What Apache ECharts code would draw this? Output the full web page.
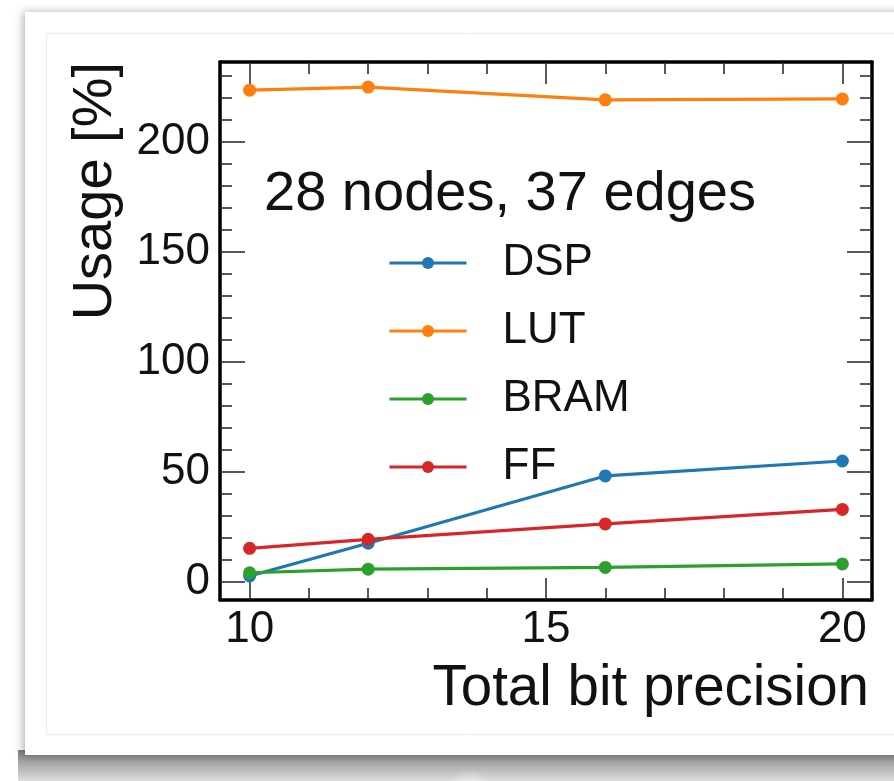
<!DOCTYPE html>
<html>
<head>
<meta charset="utf-8">
<script src="https://cdn.jsdelivr.net/npm/echarts@6/dist/echarts.min.js"></script>
<style>
html,body{margin:0;padding:0;background:#fff;}
#chart{width:894px;height:781px;}
</style>
</head>
<body>
<div id="chart"></div>
<script>
// ---- data ----
const bits = [10, 12, 16, 20];
const dsp  = [2.7, 17.6, 48.2, 55.0];
const lut  = [223.6, 225.0, 219.2, 219.6];
const bram = [4.2, 5.8, 6.6, 8.2];
const ff   = [15.3, 19.4, 26.4, 33.0];
const seriesNames = ['DSP', 'LUT', 'BRAM', 'FF'];
const seriesValues = [dsp, lut, bram, ff];
const seriesColors = ['#1f77b4', '#ff7f0e', '#2ca02c', '#d62728'];
const xMajorTicks = [10, 15, 20];
const xMinorTicks = [11, 12, 13, 14, 16, 17, 18, 19];
const yMajorTicks = [0, 50, 100, 150, 200];
const yMinorTicks = [10, 20, 30, 40, 60, 70, 80, 90, 110, 120, 130, 140, 160, 170, 180, 190, 210, 220, 230];
const legendTitle = '28 nodes, 37 edges';
const xName = 'Total bit precision';
const yName = 'Usage [%]';

const FONT = '"Liberation Sans", Arial, Helvetica, sans-serif';
const xMin = 9.5, xMax = 20.5, yMin = -8.2, yMax = 236.4;

function xAx(pos, ticks, len, showLine, showLabel) {
  return {
    type: 'value', position: pos, min: xMin, max: xMax,
    axisLine: {show: showLine, onZero: false, lineStyle: {color: '#000', width: 3.5}},
    axisTick: {show: true, inside: true, length: len, customValues: ticks, lineStyle: {color: '#222', width: 1.5}},
    axisLabel: {show: showLabel, customValues: ticks, fontSize: 44, color: '#111', fontFamily: FONT, margin: 8},
    splitLine: {show: false}
  };
}
function yAx(pos, ticks, len, showLine, showLabel) {
  return {
    type: 'value', position: pos, min: yMin, max: yMax,
    axisLine: {show: showLine, onZero: false, lineStyle: {color: '#000', width: 3.5}},
    axisTick: {show: true, inside: true, length: len, customValues: ticks, lineStyle: {color: '#222', width: 1.5}},
    axisLabel: {show: showLabel, customValues: ticks, fontSize: 44, color: '#111', fontFamily: FONT, margin: 10},
    splitLine: {show: false}
  };
}

const chart = echarts.init(document.getElementById('chart'), null, {renderer: 'canvas'});
const option = {
  backgroundColor: '#ffffff',
  animation: false,
  graphic: [
    {type: 'rect', z: -20, shape: {x: 18, y: 750, width: 900, height: 31},
     style: {fill: new echarts.graphic.LinearGradient(0, 0, 0, 1, [
       {offset: 0, color: '#7e7e7e'}, {offset: 0.4, color: '#a4a4a4'}, {offset: 1, color: '#dedede'}])}},
    {type: 'ellipse', z: -19, shape: {cx: 470, cy: 792, rx: 330, ry: 22},
     style: {fill: new echarts.graphic.RadialGradient(0.5, 0.5, 0.5, [
       {offset: 0, color: 'rgba(255,255,255,0.75)'}, {offset: 1, color: 'rgba(255,255,255,0)'}])}},
    {type: 'rect', z: -18, shape: {x: 25, y: 12, width: 900, height: 743},
     style: {fill: '#ffffff', shadowBlur: 8, shadowColor: 'rgba(0,0,0,0.3)', shadowOffsetX: -2, shadowOffsetY: 0}},
    {type: 'rect', z: -17, shape: {x: 46.5, y: 33.5, width: 900, height: 701},
     style: {fill: null, stroke: '#ececec', lineWidth: 1}},
    {type: 'text', z: 10, x: 869, y: 689,
     style: {text: xName, fill: '#111', font: '56.5px ' + FONT, textAlign: 'right', textVerticalAlign: 'middle'}},
    {type: 'text', z: 10, x: 96, y: 62, rotation: Math.PI / 2,
     style: {text: yName, fill: '#111', font: '56px ' + FONT, textAlign: 'right', textVerticalAlign: 'middle'}}
  ],
  title: {
    text: legendTitle, left: 264, top: 167, padding: 0,
    textStyle: {fontSize: 56, fontWeight: 'normal', color: '#111', fontFamily: FONT, lineHeight: 56}
  },
  legend: {
    data: seriesNames.map(n => ({name: n, lineStyle: {width: 3}})),
    orient: 'vertical', left: 388, top: 238, padding: 0,
    itemWidth: 77, itemHeight: 15, itemGap: 18,
    lineStyle: {width: 3},
    textStyle: {fontSize: 44, color: '#111', fontFamily: FONT, lineHeight: 50, padding: [0, 0, 0, 31]}
  },
  grid: {left: 220, right: 22, top: 62, bottom: 181, containLabel: false, outerBoundsMode: 'none'},
  xAxis: [
    xAx('bottom', xMajorTicks, 22, true, true),
    xAx('bottom', xMinorTicks, 12, false, false),
    xAx('top', xMajorTicks, 22, true, false),
    xAx('top', xMinorTicks, 12, false, false)
  ],
  yAxis: [
    yAx('left', yMajorTicks, 25, true, true),
    yAx('left', yMinorTicks, 12, false, false),
    yAx('right', yMajorTicks, 25, true, false),
    yAx('right', yMinorTicks, 12, false, false)
  ],
  series: seriesNames.map((name, i) => ({
    name: name, type: 'line', xAxisIndex: 0, yAxisIndex: 0,
    data: bits.map((b, j) => [b, seriesValues[i][j]]),
    symbol: 'circle', symbolSize: 13, showSymbol: true,
    color: seriesColors[i],
    lineStyle: {width: 3.2, color: seriesColors[i]},
    itemStyle: {color: seriesColors[i]},
    z: 3 + i
  }))
};
chart.setOption(option);
</script>
</body>
</html>
